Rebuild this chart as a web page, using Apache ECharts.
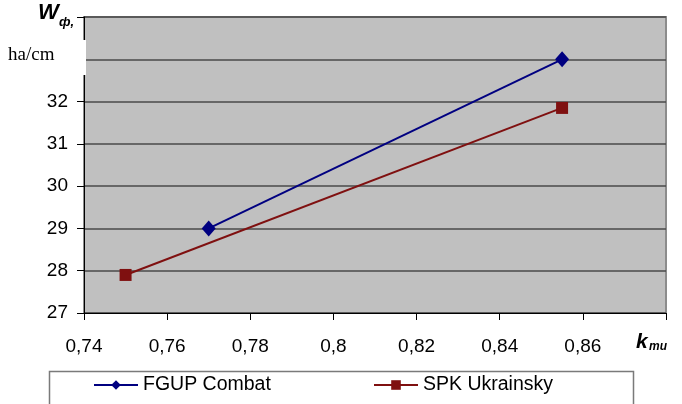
<!DOCTYPE html>
<html>
<head>
<meta charset="utf-8">
<script src="https://cdn.jsdelivr.net/npm/echarts@6/dist/echarts.min.js"></script>
<style>
  html, body { margin: 0; padding: 0; background: #fff; }
  #chart { width: 682px; height: 404px; }
</style>
</head>
<body>
<div id="chart"></div>
<script>
// 数据
let seriesNames = ['FGUP Combat', 'SPK Ukrainsky'];
let fgupData = [[0.77, 29], [0.855, 33]];
let spkData = [[0.75, 27.9], [0.855, 31.85]];
let hiddenYLabels = [33, 34];

let font = '"Liberation Sans", sans-serif';

let myChart = echarts.init(document.querySelector('#chart'));
let option = {
  animation: false,
  grid: {
    left: 84,
    right: 16,
    top: 17,
    bottom: 91,
    show: true,
    backgroundColor: '#c0c0c0',
    borderColor: '#8c8c8c',
    borderWidth: 2
  },
  legend: [
    {
      data: [seriesNames[0]],
      left: 93,
      top: 375,
      padding: 0,
      itemWidth: 44,
      itemHeight: 12,
      textStyle: { fontFamily: font, fontSize: 19.5, color: '#000' }
    },
    {
      data: [seriesNames[1]],
      left: 373,
      top: 375,
      padding: 0,
      itemWidth: 44,
      itemHeight: 12,
      textStyle: { fontFamily: font, fontSize: 19.5, color: '#000' }
    }
  ],
  xAxis: {
    type: 'value',
    min: 0.74,
    max: 0.88,
    interval: 0.02,
    splitLine: { show: false },
    axisLine: { show: true, lineStyle: { color: '#000', width: 1 } },
    axisTick: { show: true, inside: false, length: 7, lineStyle: { color: '#000' } },
    axisLabel: {
      margin: 24,
      fontFamily: font,
      fontSize: 19,
      color: '#000',
      formatter: function (v) {
        if (Math.abs(v - 0.88) < 1e-6) return '';
        return String(Math.round(v * 100) / 100).replace('.', ',');
      }
    }
  },
  yAxis: {
    type: 'value',
    min: 27,
    max: 34,
    interval: 1,
    splitLine: { show: true, lineStyle: { color: '#4a4a4a', width: 1.5 } },
    axisLine: { show: true, lineStyle: { color: '#000', width: 1 } },
    axisTick: { show: true, length: 7, lineStyle: { color: '#000' } },
    axisLabel: {
      margin: 16,
      fontFamily: font,
      fontSize: 19,
      color: '#000',
      formatter: function (v) {
        return hiddenYLabels.indexOf(v) >= 0 ? '' : String(v);
      }
    }
  },
  graphic: [
    {
      type: 'rect',
      left: 47,
      top: 369,
      z: 100,
      shape: { width: 584, height: 50 },
      style: { fill: 'none', stroke: '#7a7a7a', lineWidth: 1.5 }
    },
    {
      type: 'text',
      left: 38,
      top: 2,
      z: 100,
      style: { text: 'W', font: 'italic bold 22px Liberation Sans', fill: '#000' }
    },
    {
      type: 'text',
      left: 59,
      top: 16,
      z: 100,
      style: { text: 'ф,', font: 'italic bold 13px Liberation Sans', fill: '#000' }
    },
    {
      type: 'rect',
      left: 0,
      top: 40,
      z: 100,
      shape: { width: 86, height: 35 },
      style: { fill: '#fff' }
    },
    {
      type: 'text',
      left: 8,
      top: 46,
      z: 101,
      style: { text: 'ha/cm', font: '19px Liberation Serif', fill: '#000' }
    },
    {
      type: 'text',
      left: 636,
      top: 332,
      z: 100,
      style: { text: 'k', font: 'italic bold 21px Liberation Sans', fill: '#000' }
    },
    {
      type: 'text',
      left: 649,
      top: 341,
      z: 100,
      style: { text: 'mu', font: 'italic bold 12px Liberation Sans', fill: '#000' }
    }
  ],
  series: [
    {
      name: seriesNames[0],
      type: 'line',
      data: fgupData,
      color: '#000080',
      symbol: 'diamond',
      symbolSize: [14, 16],
      lineStyle: { width: 2, color: '#000080' },
      itemStyle: { color: '#000080' }
    },
    {
      name: seriesNames[1],
      type: 'line',
      data: spkData,
      color: '#7f1010',
      symbol: 'rect',
      symbolSize: 12,
      lineStyle: { width: 2, color: '#7f1010' },
      itemStyle: { color: '#7f1010' }
    }
  ]
};
myChart.setOption(option);
</script>
</body>
</html>
